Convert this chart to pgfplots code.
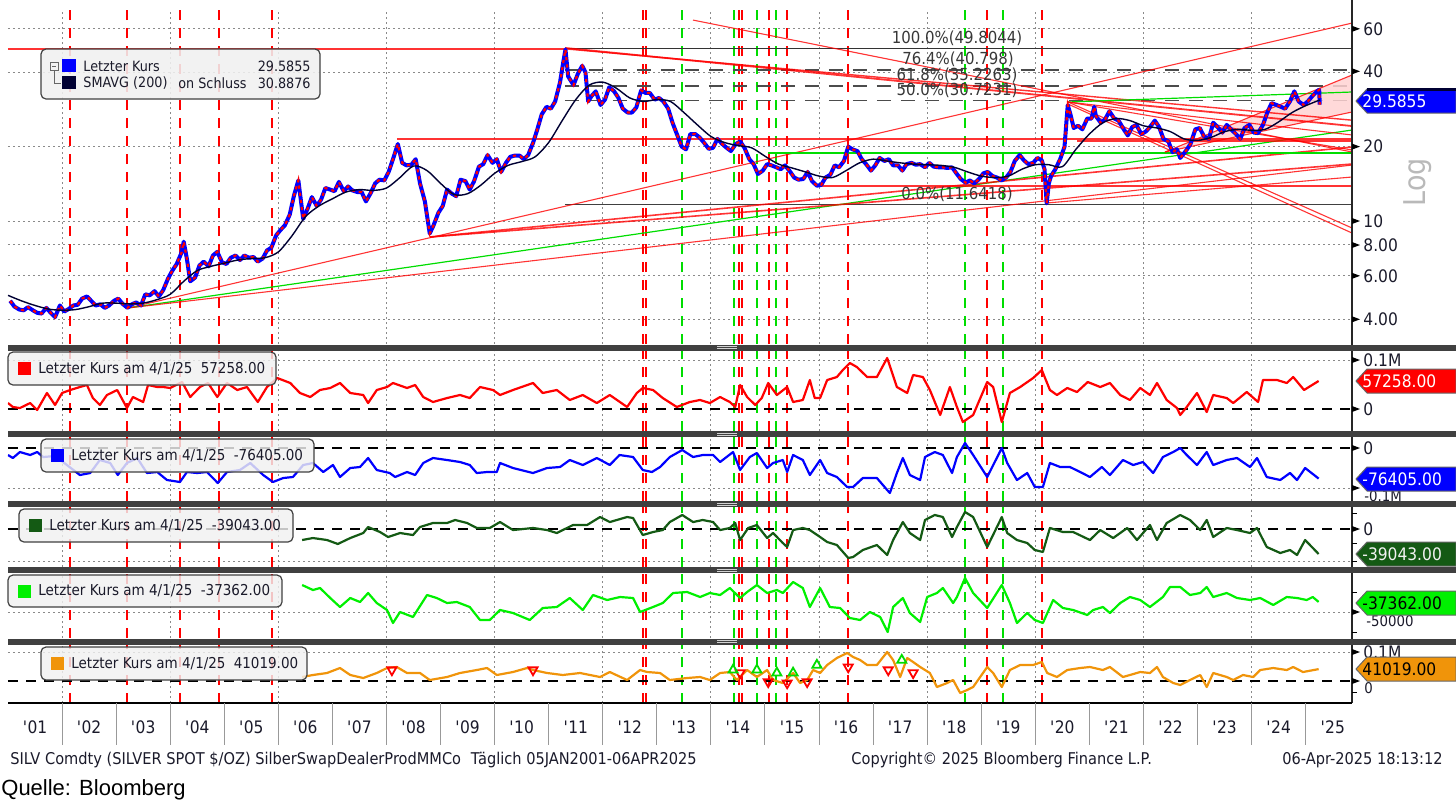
\documentclass[border=0pt]{standalone}
\usepackage{pgfplots}
\usepackage{pgfplotstable}
\pgfplotsset{compat=1.18}
\usepackage{fontspec}
\setmainfont{DejaVu Sans}[FakeStretch=0.9]
\newfontfamily\qfont{Liberation Sans}
\newcommand{\fs}[1]{\fontsize{#1}{#1}\selectfont}

\definecolor{bbred}{HTML}{FF0000}
\definecolor{bbblue}{HTML}{0000FF}
\definecolor{bbnavy}{HTML}{000033}
\definecolor{bbdgreen}{HTML}{145A14}
\definecolor{bblgreen}{HTML}{00F000}
\definecolor{bborange}{HTML}{F0940A}
\definecolor{evgreen}{HTML}{00DD00}
\definecolor{sepgray}{HTML}{404040}
\definecolor{boxfill}{HTML}{F0F0F0}
\definecolor{pinkfill}{HTML}{FFD2D2}
\definecolor{gridgray}{HTML}{8A8A8A}
\definecolor{txt}{HTML}{1A1A2A}

\pgfplotsset{
  bbpanel/.style={scale only axis, width=672pt, anchor=north west,
    xmin=2001, xmax=2025.857,
    axis line style={draw=none}, tick style={draw=none},
    major tick length=0pt, minor tick length=0pt,
    xtick={2002,2004,...,2024}, xticklabels={}, yticklabels={},
    xmajorgrids, ymajorgrids,
    major grid style={gridgray, line width=0.5pt, dash pattern=on 0.9pt off 1.6pt},
    clip=true},
}
\tikzset{
  evr/.style={bbred, line width=0.9pt, dash pattern=on 5pt off 4pt},
  evR/.style={bbred, line width=1.4pt, dash pattern=on 5pt off 4pt},
  evg/.style={evgreen, line width=1.4pt, dash pattern=on 5pt off 4pt},
  tr/.style={bbred, line width=0.55pt, opacity=0.8},
  trg/.style={evgreen, line width=0.6pt},
  zero/.style={black, line width=1pt, dash pattern=on 5pt off 4pt},
  ser/.style={line width=1.1pt, line join=round},
}
\newcommand{\evline}[2]{\draw[#1] ({axis cs:#2,1}|-{rel axis cs:0,0}) -- ({axis cs:#2,1}|-{rel axis cs:0,1});}
\newcommand{\events}{%
  \evline{evr}{2002.147}\evline{evr}{2003.201}\evline{evR}{2004.181}%
  \evline{evR}{2004.902}\evline{evR}{2005.883}%
  \evline{evr}{2012.744}\evline{evr}{2012.800}\evline{evg}{2013.465}%
  \evline{evg}{2014.427}\evline{evr}{2014.519}\evline{evr}{2014.575}%
  \evline{evg}{2014.852}\evline{evr}{2015.074}\evline{evg}{2015.204}%
  \evline{evr}{2015.408}\evline{evr}{2016.535}\evline{evg}{2018.699}%
  \evline{evr}{2019.106}\evline{evg}{2019.402}\evline{evr}{2020.123}}

% silver spot, monthly
\pgfplotstableread{
x y
2001.04 4.75
2001.12 4.50
2001.21 4.38
2001.29 4.35
2001.37 4.48
2001.46 4.35
2001.54 4.25
2001.62 4.22
2001.71 4.45
2001.79 4.25
2001.87 4.08
2001.96 4.55
2002.04 4.30
2002.12 4.40
2002.21 4.55
2002.29 4.58
2002.37 4.85
2002.46 4.95
2002.54 4.75
2002.62 4.55
2002.71 4.60
2002.79 4.45
2002.87 4.55
2002.96 4.75
2003.04 4.85
2003.12 4.62
2003.21 4.45
2003.29 4.60
2003.37 4.68
2003.46 4.55
2003.54 5.05
2003.62 5.00
2003.71 5.20
2003.79 4.95
2003.87 5.25
2003.96 5.85
2004.04 6.30
2004.12 6.70
2004.21 7.45
2004.25 8.25
2004.31 7.00
2004.37 5.70
2004.46 5.90
2004.54 6.60
2004.62 6.85
2004.71 6.55
2004.79 7.25
2004.87 7.50
2004.96 6.80
2005.04 6.70
2005.12 7.10
2005.21 7.25
2005.29 6.95
2005.37 7.25
2005.46 7.10
2005.54 7.15
2005.62 6.85
2005.71 7.05
2005.79 7.60
2005.87 7.80
2005.96 8.75
2006.04 9.20
2006.12 9.60
2006.21 10.60
2006.29 12.70
2006.37 14.60
2006.46 10.20
2006.54 11.20
2006.62 12.50
2006.71 11.50
2006.79 12.20
2006.87 13.60
2006.96 13.40
2007.04 13.20
2007.12 14.40
2007.21 13.20
2007.29 13.80
2007.37 13.30
2007.46 13.10
2007.54 13.10
2007.62 12.00
2007.71 13.00
2007.79 14.20
2007.87 14.70
2007.96 14.60
2008.04 15.80
2008.12 17.80
2008.21 20.50
2008.29 17.20
2008.37 16.80
2008.46 16.90
2008.54 17.80
2008.62 14.20
2008.71 12.00
2008.80 8.90
2008.87 9.60
2008.96 10.80
2009.04 11.50
2009.12 13.40
2009.21 12.90
2009.29 12.60
2009.37 14.70
2009.46 14.50
2009.54 13.40
2009.62 14.50
2009.71 16.60
2009.79 17.00
2009.87 18.50
2009.96 17.20
2010.04 17.80
2010.12 15.80
2010.21 17.20
2010.29 18.20
2010.37 18.40
2010.46 18.40
2010.54 17.80
2010.62 18.50
2010.71 20.70
2010.79 23.50
2010.87 27.00
2010.96 29.00
2011.04 28.50
2011.12 30.50
2011.21 36.50
2011.27 44.00
2011.31 49.50
2011.36 38.50
2011.46 35.50
2011.54 39.50
2011.62 42.50
2011.68 40.00
2011.73 30.50
2011.79 32.00
2011.87 33.50
2011.96 29.50
2012.04 31.00
2012.12 34.80
2012.21 33.50
2012.29 31.50
2012.37 28.50
2012.46 27.50
2012.54 27.50
2012.62 28.80
2012.71 33.80
2012.79 33.00
2012.87 33.00
2012.96 31.00
2013.04 31.50
2013.12 30.50
2013.21 28.50
2013.29 25.00
2013.37 22.50
2013.46 20.00
2013.54 19.50
2013.62 22.50
2013.71 22.50
2013.79 21.80
2013.87 20.80
2013.96 19.60
2014.04 19.80
2014.12 21.50
2014.21 20.50
2014.29 19.80
2014.37 19.20
2014.46 20.50
2014.54 21.00
2014.62 19.80
2014.71 17.80
2014.79 17.00
2014.87 15.50
2014.96 16.00
2015.04 17.00
2015.12 16.80
2015.21 16.50
2015.29 16.20
2015.37 16.80
2015.46 15.90
2015.54 15.00
2015.62 14.70
2015.71 14.80
2015.79 15.80
2015.87 14.50
2015.96 13.90
2016.04 14.00
2016.12 15.00
2016.21 15.40
2016.29 16.80
2016.37 16.50
2016.46 17.50
2016.54 20.00
2016.62 19.50
2016.71 19.20
2016.79 17.80
2016.87 17.00
2016.96 16.00
2017.04 16.80
2017.12 18.00
2017.21 17.50
2017.29 17.80
2017.37 16.80
2017.46 16.80
2017.54 16.00
2017.62 17.00
2017.71 17.20
2017.79 16.90
2017.87 17.00
2017.96 16.50
2018.04 17.20
2018.12 16.60
2018.21 16.50
2018.29 16.50
2018.37 16.40
2018.46 16.50
2018.54 15.60
2018.62 14.80
2018.71 14.30
2018.79 14.60
2018.87 14.20
2018.96 14.80
2019.04 15.60
2019.12 15.80
2019.21 15.20
2019.29 15.00
2019.37 14.60
2019.46 15.00
2019.54 15.80
2019.62 17.50
2019.71 18.50
2019.79 17.60
2019.87 17.00
2019.96 17.20
2020.04 18.00
2020.12 17.60
2020.17 16.20
2020.21 11.80
2020.25 14.20
2020.29 15.20
2020.37 16.20
2020.46 17.80
2020.54 20.00
2020.58 26.00
2020.60 29.50
2020.65 27.00
2020.71 23.80
2020.79 24.30
2020.87 23.50
2020.96 26.00
2021.04 26.00
2021.09 29.00
2021.12 26.60
2021.21 25.00
2021.29 25.80
2021.37 27.80
2021.46 26.00
2021.54 25.50
2021.62 23.80
2021.71 22.20
2021.79 24.00
2021.87 24.50
2021.96 22.50
2022.04 23.00
2022.12 24.00
2022.21 25.50
2022.29 24.00
2022.37 21.50
2022.46 21.00
2022.54 19.00
2022.62 19.50
2022.68 18.00
2022.79 19.30
2022.87 20.50
2022.96 23.50
2023.04 23.80
2023.12 22.00
2023.21 21.50
2023.29 25.00
2023.37 24.00
2023.46 22.80
2023.54 24.50
2023.62 23.50
2023.71 22.50
2023.79 21.50
2023.87 23.80
2023.96 24.50
2024.04 22.80
2024.12 22.70
2024.21 24.50
2024.29 27.50
2024.37 30.00
2024.46 29.50
2024.54 29.00
2024.62 28.50
2024.71 30.50
2024.79 33.50
2024.87 30.50
2024.96 29.50
2025.04 30.50
2025.12 32.00
2025.21 33.50
2025.25 34.00
2025.26 29.59
}\price

\begin{document}
\begin{tikzpicture}

% ---------------- main price panel (log) ----------------
\begin{axis}[bbpanel, at={(4pt,-5pt)}, height=167pt,
  ymode=log, ymin=3.177, ymax=71.5, ytick={4,6,8,10,20,40,60}]
\events
% fibonacci
\addplot[tr, line width=0.8pt] coordinates {(2001,49.8044) (2011.301,49.8044)};
\addplot[black!80, line width=0.6pt] coordinates {(2011.301,49.8044) (2025.857,49.8044)};
\addplot[black!70, line width=0.8pt, dash pattern=on 7pt off 5pt] coordinates {(2011.301,40.798) (2025.857,40.798)};
\addplot[black!70, line width=0.8pt, dash pattern=on 7pt off 5pt] coordinates {(2011.301,35.2263) (2025.857,35.2263)};
\addplot[black!70, line width=0.8pt, dash pattern=on 7pt off 5pt] coordinates {(2011.301,30.7231) (2025.857,30.7231)};
\addplot[black!75, line width=0.6pt] coordinates {(2011.301,11.6418) (2025.857,11.6418)};
% channel
\fill[pinkfill, opacity=0.85] (axis cs:2022.398,19.03) -- (axis cs:2025.857,39.0) -- (axis cs:2025.857,27.63) -- cycle;
% trend lines
\addplot[tr] coordinates {(2003.219,4.444) (2025.857,63.3)};
\addplot[trg] coordinates {(2003.219,4.444) (2025.857,23.35)};
\addplot[tr] coordinates {(2003.219,4.444) (2025.857,16.85)};
\addplot[tr, line width=0.8pt] coordinates {(2008.805,8.614) (2025.857,19.93)};
\addplot[tr, line width=0.8pt] coordinates {(2008.805,8.614) (2025.857,17.01)};
\addplot[tr, line width=0.7pt] coordinates {(2008.194,21.48) (2025.857,21.48)};
\addplot[tr] coordinates {(2020.771,21.08) (2025.857,21.08)};
\addplot[tr, line width=0.9pt] coordinates {(2011.301,50.2) (2025.857,24.24)};
\addplot[tr, line width=0.7pt] coordinates {(2011.301,49.8) (2025.857,25.6)};
\addplot[tr] coordinates {(2013.669,65.1) (2025.857,19.03)};
\addplot[trg] coordinates {(2015.056,18.85) (2025.857,18.85)};
\addplot[trg] coordinates {(2020.604,30.33) (2025.857,33.29)};
\addplot[tr] coordinates {(2020.604,30.33) (2025.857,9.37)};
\addplot[tr] coordinates {(2020.604,29.76) (2025.857,8.94)};
\addplot[tr] coordinates {(2020.604,30.33) (2025.857,22.30)};
\addplot[tr] coordinates {(2020.604,30.33) (2025.857,19.39)};
\addplot[tr] coordinates {(2016.017,13.86) (2025.857,13.86)};
\addplot[tr] coordinates {(2020.216,11.83) (2025.857,15.07)};
\addplot[tr] coordinates {(2022.398,19.03) (2025.857,39.0)};
\addplot[tr] coordinates {(2022.398,19.03) (2025.857,27.63)};
% price
\addplot[bbblue, line width=2pt, line join=round] table[x=x,y=y] {\price};
\addplot[bbred, line width=1.1pt, dash pattern=on 1.6pt off 2pt] table[x=x,y=y] {\price};
% SMAVG 200
\addplot[bbnavy, line width=0.7pt, smooth] coordinates {
(2001.00,5.00) (2001.25,4.75) (2001.50,4.55) (2001.75,4.40) (2002.00,4.35) (2002.25,4.38)
(2002.50,4.50) (2002.75,4.65) (2003.00,4.65) (2003.25,4.62) (2003.50,4.65) (2003.75,4.80)
(2004.00,5.05) (2004.25,5.70) (2004.50,6.30) (2004.75,6.55) (2005.00,6.75) (2005.25,6.95)
(2005.50,7.05) (2005.75,7.10) (2006.00,7.50) (2006.25,8.70) (2006.50,10.40) (2006.75,11.50)
(2007.00,12.30) (2007.25,13.10) (2007.50,13.40) (2007.75,13.30) (2008.00,13.60) (2008.25,15.00)
(2008.50,16.70) (2008.75,16.00) (2009.00,14.20) (2009.25,12.80) (2009.50,12.90) (2009.75,14.00)
(2010.00,15.60) (2010.25,16.80) (2010.50,17.40) (2010.75,18.20) (2011.00,20.80) (2011.25,25.50)
(2011.50,31.00) (2011.75,35.50) (2012.00,36.50) (2012.25,34.50) (2012.50,31.50) (2012.75,30.50)
(2013.00,31.00) (2013.25,30.50) (2013.50,27.50) (2013.75,24.50) (2014.00,22.00) (2014.25,20.80)
(2014.50,20.20) (2014.75,19.80) (2015.00,18.30) (2015.25,17.00) (2015.50,16.40) (2015.75,15.80)
(2016.00,15.20) (2016.25,15.00) (2016.50,16.00) (2016.75,17.20) (2017.00,17.80) (2017.25,17.50)
(2017.50,17.20) (2017.75,17.00) (2018.00,16.90) (2018.25,16.80) (2018.50,16.50) (2018.75,15.80)
(2019.00,15.20) (2019.25,15.00) (2019.50,15.20) (2019.75,16.20) (2020.00,16.90) (2020.25,16.90)
(2020.50,16.60) (2020.75,19.50) (2021.00,22.50) (2021.25,25.00) (2021.50,26.00) (2021.75,25.50)
(2022.00,24.30) (2022.25,23.80) (2022.50,23.00) (2022.75,21.50) (2023.00,21.20) (2023.25,21.80)
(2023.50,23.00) (2023.75,23.50) (2024.00,23.30) (2024.25,23.50) (2024.50,25.20) (2024.75,27.50)
(2025.00,29.30) (2025.26,30.89)};
\end{axis}

% ---------------- panel 2 (red) ----------------
\begin{axis}[bbpanel, at={(4pt,-175.5pt)}, height=40pt, ymin=-44.9, ymax=118.4, ytick={100}]
\events
\addplot[zero] coordinates {(2001,0) (2025.857,0)};
\addplot[ser, bbred] coordinates {
(2001.00,12.2) (2001.09,4.1) (2001.22,2.0) (2001.41,12.2) (2001.54,-2.0) (2001.72,32.7) (2001.87,8.2)
(2002.00,32.7) (2002.15,38.8) (2002.33,44.9) (2002.46,49.0) (2002.57,22.4) (2002.70,8.2) (2002.83,28.6)
(2003.02,38.8) (2003.20,2.0) (2003.31,24.5) (2003.50,14.3) (2003.59,49.0) (2003.76,44.9) (2003.87,44.9)
(2004.00,42.9) (2004.22,55.1) (2004.37,24.5) (2004.55,44.9) (2004.70,53.1) (2004.87,24.5) (2005.05,53.1)
(2005.24,38.8) (2005.42,44.9) (2005.62,14.3) (2005.79,44.9) (2005.98,63.3) (2006.22,53.1) (2006.40,32.7)
(2006.59,24.5) (2006.77,38.8) (2006.96,42.9) (2007.14,53.1) (2007.33,32.7) (2007.57,28.6) (2007.66,12.2)
(2007.82,38.8) (2008.01,44.9) (2008.12,53.1) (2008.38,42.9) (2008.53,49.0) (2008.68,24.5) (2008.86,14.3)
(2009.12,22.4) (2009.36,28.6) (2009.54,22.4) (2009.73,44.9) (2009.97,38.8) (2010.10,28.6) (2010.34,38.8)
(2010.71,53.1) (2010.89,32.7) (2011.15,38.8) (2011.39,18.4) (2011.63,28.6) (2011.89,12.2) (2012.13,28.6)
(2012.45,4.1) (2012.63,32.7) (2012.74,42.9) (2012.93,38.8) (2013.11,22.4) (2013.37,4.1) (2013.61,14.3)
(2013.80,18.4) (2013.98,12.2) (2014.17,24.5) (2014.35,14.3) (2014.45,4.1) (2014.54,49.0) (2014.67,24.5)
(2014.82,8.2) (2014.94,22.4) (2015.06,53.1) (2015.22,28.6) (2015.41,44.9) (2015.52,14.3) (2015.70,18.4)
(2015.83,59.2) (2015.92,22.4) (2016.02,22.4) (2016.15,59.2) (2016.33,65.3) (2016.44,79.6) (2016.57,93.9)
(2016.70,85.7) (2016.89,65.3) (2017.07,65.3) (2017.26,104.1) (2017.44,44.9) (2017.63,32.7) (2017.74,69.4)
(2017.92,65.3) (2018.05,38.8) (2018.24,-12.2) (2018.42,44.9) (2018.55,4.1) (2018.66,-26.5) (2018.85,-12.2)
(2019.11,55.1) (2019.22,44.9) (2019.38,-26.5) (2019.53,32.7) (2019.72,44.9) (2019.96,63.3) (2020.12,79.6)
(2020.27,38.8) (2020.40,28.6) (2020.59,42.9) (2020.77,34.7) (2020.97,55.1) (2021.20,44.9) (2021.38,53.1)
(2021.57,28.6) (2021.75,18.4) (2021.94,42.9) (2022.12,28.6) (2022.25,53.1) (2022.43,18.4) (2022.62,2.0)
(2022.68,-12.2) (2022.80,4.1) (2022.99,32.7) (2023.17,-6.1) (2023.29,28.6) (2023.54,22.4) (2023.66,12.2)
(2023.91,34.7) (2024.12,14.3) (2024.21,59.2) (2024.47,59.2) (2024.65,53.1) (2024.77,65.3) (2024.97,38.8)
(2025.24,57.258)};
\end{axis}

% ---------------- panel 3 (blue) ----------------
\begin{axis}[bbpanel, at={(4pt,-218.5pt)}, height=32pt, ymin=-132.5, ymax=27.5, ytick={-100}]
\events
\addplot[zero] coordinates {(2001,0) (2025.857,0)};
\addplot[ser, bbblue] coordinates {
(2001.00,-17.5) (2001.09,-25) (2001.22,-10) (2001.41,-17.5) (2001.54,-10) (2001.65,-22.5) (2001.87,-20)
(2002.09,-42.5) (2002.33,-67.5) (2002.52,-62.5) (2002.70,-30) (2002.89,-37.5) (2003.03,-67.5) (2003.20,-37.5)
(2003.39,-25) (2003.57,-62.5) (2003.76,-60) (2003.94,-80) (2004.18,-85) (2004.31,-60) (2004.50,-62.5)
(2004.68,-60) (2004.88,-87.5) (2005.05,-60) (2005.29,-55) (2005.48,-37.5) (2005.72,-67.5) (2005.90,-85)
(2006.09,-75) (2006.27,-72.5) (2006.46,-42.5) (2006.64,-37.5) (2006.83,-60) (2007.01,-42.5) (2007.14,-72.5)
(2007.33,-50) (2007.51,-47.5) (2007.66,-25) (2007.82,-55) (2008.06,-62.5) (2008.16,-72.5) (2008.38,-60)
(2008.53,-67.5) (2008.68,-37.5) (2008.86,-25) (2009.12,-30) (2009.36,-35) (2009.54,-42.5) (2009.67,-62.5)
(2009.86,-60) (2010.04,-60) (2010.10,-37.5) (2010.34,-50) (2010.71,-62.5) (2010.97,-50) (2011.21,-47.5)
(2011.39,-30) (2011.63,-42.5) (2011.89,-25) (2012.13,-42.5) (2012.31,-17.5) (2012.56,-22.5) (2012.74,-55)
(2012.91,-60) (2013.06,-47.5) (2013.24,-22.5) (2013.47,-5) (2013.67,-22.5) (2013.85,-17.5) (2014.04,-17.5)
(2014.17,-35) (2014.41,-10) (2014.54,-55) (2014.72,-22.5) (2014.85,-12.5) (2015.04,-50) (2015.15,-37.5)
(2015.33,-30) (2015.41,-60) (2015.52,-17.5) (2015.70,-30) (2015.83,-67.5) (2016.02,-30) (2016.15,-62.5)
(2016.33,-72.5) (2016.52,-97.5) (2016.63,-97.5) (2016.81,-75) (2017.07,-75) (2017.26,-105) (2017.31,-112.5)
(2017.44,-62.5) (2017.55,-25) (2017.68,-67.5) (2017.87,-80) (2017.96,-22.5) (2018.14,-10) (2018.29,-17.5)
(2018.46,-62.5) (2018.55,-22.5) (2018.70,12.5) (2018.85,-17.5) (2019.11,-72.5) (2019.38,0) (2019.48,-37.5)
(2019.66,-80) (2019.85,-62.5) (2019.99,-97.5) (2020.14,-97.5) (2020.27,-37.5) (2020.46,-47.5) (2020.64,-47.5)
(2020.83,-60) (2021.01,-72.5) (2021.23,-47.5) (2021.38,-67.5) (2021.62,-30) (2021.81,-42.5) (2021.99,-35)
(2022.18,-62.5) (2022.36,-22.5) (2022.55,-10) (2022.68,0) (2022.80,-17.5) (2022.99,-42.5) (2023.17,-10)
(2023.29,-42.5) (2023.54,-30) (2023.73,-25) (2023.97,-47.5) (2024.10,-25) (2024.28,-72.5) (2024.53,-80)
(2024.71,-62.5) (2024.84,-80) (2024.99,-50) (2025.24,-76.405)};
\end{axis}

% ---------------- panel 4 (dark green) ----------------
\begin{axis}[bbpanel, at={(4pt,-253.5pt)}, height=30pt, ymin=-59.375, ymax=34.375, ytick={-50}]
\events
\addplot[zero] coordinates {(2001,0) (2025.857,0)};
\addplot[ser, bbdgreen] coordinates {
(2006.44,-17.2) (2006.64,-14.1) (2006.90,-17.2) (2007.10,-23.4) (2007.33,-14.1) (2007.57,-6.25) (2007.66,3.1)
(2007.88,-4.7) (2008.03,-12.5) (2008.25,-6.25) (2008.49,-9.4) (2008.62,3.1) (2008.86,9.4) (2009.12,9.4)
(2009.27,14.1) (2009.49,9.4) (2009.67,1.6) (2009.91,1.6) (2010.10,10.9) (2010.34,-1.6) (2010.71,1.6)
(2010.97,-1.6) (2011.15,-6.25) (2011.45,6.25) (2011.71,6.25) (2011.95,18.75) (2012.13,10.9) (2012.45,18.75)
(2012.56,17.2) (2012.74,-9.4) (2012.93,-4.7) (2013.11,-1.6) (2013.24,10.9) (2013.47,21.9) (2013.67,10.9)
(2013.85,14.1) (2014.04,10.9) (2014.17,-1.6) (2014.35,1.6) (2014.45,9.4) (2014.54,-17.2) (2014.69,1.6)
(2014.85,6.25) (2015.04,-14.1) (2015.15,-6.25) (2015.33,-21.9) (2015.41,-28.1) (2015.52,-1.6) (2015.70,1.6)
(2015.83,-1.6) (2016.02,-12.5) (2016.15,-20.3) (2016.33,-25) (2016.54,-45.3) (2016.63,-43.75) (2016.81,-32.8)
(2017.07,-25) (2017.26,-40.6) (2017.37,-17.2) (2017.55,10.9) (2017.68,-6.25) (2017.87,-17.2) (2017.96,14.1)
(2018.14,21.9) (2018.29,18.75) (2018.46,-12.5) (2018.55,3.1) (2018.70,26.6) (2018.85,18.75) (2019.11,-28.1)
(2019.38,18.75) (2019.48,-6.25) (2019.66,-17.2) (2019.85,-21.9) (2019.99,-32.8) (2020.14,-35.9) (2020.27,1.6)
(2020.51,-4.7) (2020.70,-4.7) (2021.01,-17.2) (2021.20,-1.6) (2021.44,-14.1) (2021.70,1.6) (2021.88,-17.2)
(2022.12,6.25) (2022.25,-17.2) (2022.43,9.4) (2022.68,21.9) (2022.86,14.1) (2023.05,-1.6) (2023.17,14.1)
(2023.29,-12.5) (2023.54,1.6) (2023.73,-1.6) (2023.97,-6.25) (2024.10,1.6) (2024.28,-28.1) (2024.53,-37.5)
(2024.71,-32.8) (2024.84,-40.6) (2024.99,-17.2) (2025.24,-39.043)};
\end{axis}

% ---------------- panel 5 (light green) ----------------
\begin{axis}[bbpanel, at={(4pt,-286.5pt)}, height=32.5pt, ymin=-82.5, ymax=-1.25, ytick={-50}]
\events
\addplot[ser, bblgreen] coordinates {
(2006.44,-16.25) (2006.64,-22.5) (2006.77,-20) (2006.96,-32.5) (2007.14,-43.75) (2007.33,-32.5) (2007.51,-37.5)
(2007.66,-26.25) (2007.82,-38.75) (2008.01,-47.5) (2008.12,-63.75) (2008.25,-50) (2008.49,-56.25) (2008.75,-28.75)
(2008.93,-32.5) (2009.12,-38.75) (2009.30,-37.5) (2009.54,-43.75) (2009.73,-60) (2009.91,-60) (2010.10,-47.5)
(2010.34,-51.25) (2010.65,-60) (2010.89,-45) (2011.15,-43.75) (2011.39,-32.5) (2011.63,-47.5) (2011.82,-28.75)
(2012.08,-35) (2012.32,-31.25) (2012.56,-32.5) (2012.69,-50) (2012.93,-43.75) (2013.11,-38.75) (2013.30,-26.25)
(2013.56,-25) (2013.80,-31.25) (2013.98,-26.25) (2014.17,-28.75) (2014.35,-20) (2014.54,-32.5) (2014.67,-25)
(2014.85,-16.25) (2015.04,-26.25) (2015.22,-22.5) (2015.33,-26.25) (2015.52,-12.5) (2015.70,-20) (2015.83,-43.75)
(2016.02,-20) (2016.20,-43.75) (2016.39,-45) (2016.57,-57.5) (2016.76,-60) (2016.94,-50) (2017.13,-56.25)
(2017.27,-75) (2017.37,-43.75) (2017.55,-32.5) (2017.68,-51.25) (2017.87,-62.5) (2018.00,-31.25) (2018.18,-26.25)
(2018.29,-20) (2018.48,-38.75) (2018.55,-31.25) (2018.70,-7.5) (2018.85,-26.25) (2019.11,-45) (2019.38,-16.25)
(2019.53,-38.75) (2019.66,-63.75) (2019.85,-51.25) (2019.99,-60) (2020.14,-63.75) (2020.33,-35) (2020.51,-45)
(2020.70,-47.5) (2020.96,-53.75) (2021.07,-47.5) (2021.25,-43.75) (2021.38,-51.25) (2021.57,-38.75) (2021.75,-31.25)
(2021.94,-35) (2022.12,-43.75) (2022.36,-31.25) (2022.49,-18.75) (2022.68,-18.75) (2022.86,-28.75) (2023.05,-26.25)
(2023.17,-18.75) (2023.29,-31.25) (2023.54,-26.25) (2023.73,-32.5) (2023.97,-35) (2024.16,-32.5) (2024.40,-41.25)
(2024.65,-31.25) (2024.84,-32.5) (2025.02,-35) (2025.13,-31.25) (2025.24,-37.362)};
\end{axis}

% ---------------- panel 6 (orange) ----------------
\begin{axis}[bbpanel, at={(4pt,-322.5pt)}, height=29pt, ymin=-75.9, ymax=124.1, ytick={100}]
\events
\addplot[zero, line width=0.8pt] coordinates {(2001,0) (2025.857,0)};
\addplot[ser, bborange] coordinates {
(2006.44,13.8) (2006.64,20.7) (2006.90,27.6) (2007.14,44.8) (2007.33,20.7) (2007.57,10.3) (2007.82,27.6)
(2008.01,44.8) (2008.19,48.3) (2008.38,27.6) (2008.62,27.6) (2008.80,3.4) (2009.12,13.8) (2009.36,27.6)
(2009.67,37.9) (2009.86,44.8) (2010.04,20.7) (2010.34,31.0) (2010.60,44.8) (2010.71,37.9) (2010.97,27.6)
(2011.26,20.7) (2011.58,27.6) (2011.95,13.8) (2012.13,31.0) (2012.45,3.4) (2012.69,37.9) (2012.82,31.0)
(2013.06,27.6) (2013.24,3.4) (2013.56,10.3) (2013.80,13.8) (2013.98,3.4) (2014.17,27.6) (2014.35,31.0)
(2014.48,3.4) (2014.67,37.9) (2014.85,13.8) (2015.04,37.9) (2015.15,3.4) (2015.33,-6.9) (2015.52,27.6)
(2015.65,-6.9) (2015.78,3.4) (2015.89,37.9) (2016.02,27.6) (2016.15,55.2) (2016.33,79.3) (2016.52,96.6)
(2016.63,82.8) (2016.76,72.4) (2016.89,55.2) (2017.07,55.2) (2017.26,100) (2017.37,72.4) (2017.50,13.8)
(2017.63,79.3) (2017.74,65.5) (2017.87,48.3) (2018.05,27.6) (2018.18,-20.7) (2018.37,-6.9) (2018.48,3.4)
(2018.61,-41.4) (2018.74,-31.0) (2018.85,-20.7) (2018.98,13.8) (2019.11,48.3) (2019.22,27.6) (2019.38,-20.7)
(2019.53,37.9) (2019.72,55.2) (2019.96,55.2) (2020.12,65.5) (2020.22,27.6) (2020.40,13.8) (2020.59,37.9)
(2020.83,44.8) (2021.01,48.3) (2021.25,37.9) (2021.38,48.3) (2021.62,13.8) (2021.75,20.7) (2021.94,31.0)
(2022.12,27.6) (2022.25,48.3) (2022.36,13.8) (2022.55,-6.9) (2022.68,-13.8) (2022.86,3.4) (2023.05,20.7)
(2023.17,-20.7) (2023.29,27.6) (2023.54,13.8) (2023.66,3.4) (2023.84,20.7) (2024.03,13.8) (2024.16,37.9)
(2024.40,44.8) (2024.65,37.9) (2024.77,48.3) (2024.95,31.0) (2025.24,41.019)};
\addplot[only marks, mark=triangle, mark size=2.6pt, mark options={rotate=180, draw=bbred, line width=0.9pt}] coordinates {
(2008.10,38) (2010.71,38) (2014.54,28) (2015.06,-3) (2015.41,-7) (2015.78,-3) (2016.54,48) (2017.28,38) (2017.74,28)};
\addplot[only marks, mark=triangle, mark size=2.6pt, mark options={draw=evgreen, line width=0.9pt}] coordinates {
(2014.41,38) (2014.85,38) (2015.22,28) (2015.52,28) (2015.96,55) (2017.53,72)};
\end{axis}

% ---------------- frame, labels, legends ----------------
\begin{scope}[x=0.5pt, y=-0.5pt]
\draw[black!85, line width=0.6pt] (1352,0) -- (1352,703);
\draw[black, line width=0.6pt] (8,703) -- (1352,703);
\foreach \i in {1,...,24} \draw[gray!80, line width=0.5pt] ({8+\i*54.07},703) -- ({8+\i*54.07},745);
\foreach \yy [count=\c from 0] in {01,02,03,04,05,06,07,08,09,10,11,12,13,14,15,16,17,18,19,20,21,22,23,24,25}
  \node[font={\fs{8.6}}, text=txt, inner sep=0] at ({8+(\c+0.5)*54.07},727) {\textquotesingle\yy};

% separators
\foreach \a/\b in {344.5/350.5, 431/437, 501/507, 567/573, 638.5/644.5} {
  \fill[sepgray] (8,\a) rectangle (1456,\b);
  \draw[gray!35, line width=0.4pt] (717,{\a+2}) -- (737,{\a+2}) (717,{\a+4}) -- (737,{\a+4});
}

% right tick arrows and labels
\tikzset{tl/.style={anchor=west, inner sep=0, font={\fs{8.6}}, text=txt}}
\foreach \yv/\lab in {28.8/60, 71.3/40, 146.6/20, 221/10, 245/8.00, 275.8/6.00, 319.3/4.00,
                       360/0.1M, 409/0, 448/0, 529/0, 652/0.1M} {
  \fill[black] (1352,{\yv-3}) -- (1360,\yv) -- (1352,{\yv+3}) -- cycle;
  \node[tl] at (1363,\yv) {\lab};
}
% ticks whose labels sit partly under the value tags
\foreach \yv in {488, 612, 681} \fill[black] (1352,{\yv-3}) -- (1360,\yv) -- (1352,{\yv+3}) -- cycle;
\node[tl, font={\fs{7.4}}] at (1364,496.5) {-0.1M};
\node[tl, font={\fs{7.4}}] at (1366,621.5) {-50000};
\node[tl, font={\fs{7.4}}] at (1364,688) {0};
\foreach \yv in {513, 543, 561, 592, 632, 692} \draw[black] (1352,\yv) -- (1357,\yv);

% value tags
\newcommand{\vtag}[4]{%
  \filldraw[fill=#2, draw=black!60, line width=0.5pt] (1356,#1) -- (1367,{#1-12}) -- (1456,{#1-12}) -- (1456,{#1+12}) -- (1367,{#1+12}) -- cycle;
  \node[anchor=west, inner sep=0, font={\fs{8.6}}, text=#3] at (1362,#1) {#4};}
\vtag{101}{bbblue}{white}{29.5855}
\draw[bbnavy, line width=1.4pt] (1367,89.7) -- (1456,89.7);
\vtag{381}{bbred}{white}{57258.00}
\vtag{479}{bbblue}{white}{-76405.00}
\vtag{554}{bbdgreen}{white!90!gray}{-39043.00}
\vtag{603}{bblgreen}{black}{-37362.00}
\vtag{669}{bborange}{black}{41019.00}

\node[rotate=90, font={\fs{15}}, text=gray!55, inner sep=0] at (1418,182) {Log};

% fibonacci labels
\tikzset{fl/.style={inner sep=0, font={\fs{8.3}}, text=black!78}}
\node[fl] at (957,38) {100.0\%(49.8044)};
\node[fl] at (958,59) {76.4\%(40.798)};
\node[fl] at (957,75) {61.8\%(35.2263)};
\node[fl] at (957,90) {50.0\%(30.7231)};
\node[fl] at (957,194) {0.0\%(11.6418)};

% main legend
\filldraw[fill=boxfill, fill opacity=0.88, draw=black!75, line width=0.6pt, rounded corners=2.5pt] (41,49) rectangle (320,99);
\draw[gray!80!black, line width=0.4pt] (50,62) rectangle (58,70) (52,66) -- (56,66) (54,70) -- (54,83) -- (61,83);
\fill[bbblue] (62,59) rectangle (76,72);
\fill[bbnavy] (62,76) rectangle (76,89);
\tikzset{lg/.style={inner sep=0, font={\fs{7.5}}, text=txt}}
\tikzset{lgs/.style={inner sep=0, font={\fs{7.1}}, text=txt}}
\node[lgs, anchor=west] at (83,66) {Letzter Kurs};
\node[lgs, anchor=east] at (311,66) {29.5855};
\node[lgs, anchor=west] at (83,83) {SMAVG (200)};
\node[lgs, anchor=west] at (178,83) {on Schluss};
\node[lgs, anchor=east] at (311,83) {30.8876};

% panel legends
\newcommand{\plg}[6]{%
  \filldraw[fill=boxfill, fill opacity=0.82, draw=black!75, line width=0.6pt, rounded corners=2.5pt] (#1,#2) rectangle (#3,#4);
  \fill[#5] ({#1+10},{(#2+#4)/2-6.5}) rectangle ({#1+23},{(#2+#4)/2+6.5});
  \node[lg, anchor=west] at ({#1+30},{(#2+#4)/2}) {Letzter Kurs am 4/1/25\hspace{0.55em}#6};}
\plg{8}{352}{276}{385}{bbred}{57258.00}
\plg{41}{439}{314}{472}{bbblue}{-76405.00}
\plg{19}{509}{293}{542}{bbdgreen}{-39043.00}
\plg{8}{575}{282}{607}{bblgreen}{-37362.00}
\plg{41}{647}{307}{680}{bborange}{41019.00}

% footer
\node[anchor=west, inner sep=0, font={\fs{8.1}}, text=txt] at (10,760) {SILV Comdty (SILVER SPOT \$/OZ) SilberSwapDealerProdMMCo\hspace{0.6em}Täglich 05JAN2001-06APR2025};
\node[anchor=west, inner sep=0, font={\fs{8.1}}, text=txt] at (851,760) {Copyright© 2025 Bloomberg Finance L.P.};
\node[anchor=east, inner sep=0, font={\fs{8.1}}, text=txt] at (1443,760) {06-Apr-2025 18:13:12};
\node[anchor=west, inner sep=0, font={\qfont\fs{11}}] at (1,790) {Quelle: Bloomberg};
\end{scope}

\pgfresetboundingbox
\path[use as bounding box] (0,0) rectangle (728pt,-400pt);
\end{tikzpicture}
\end{document}
